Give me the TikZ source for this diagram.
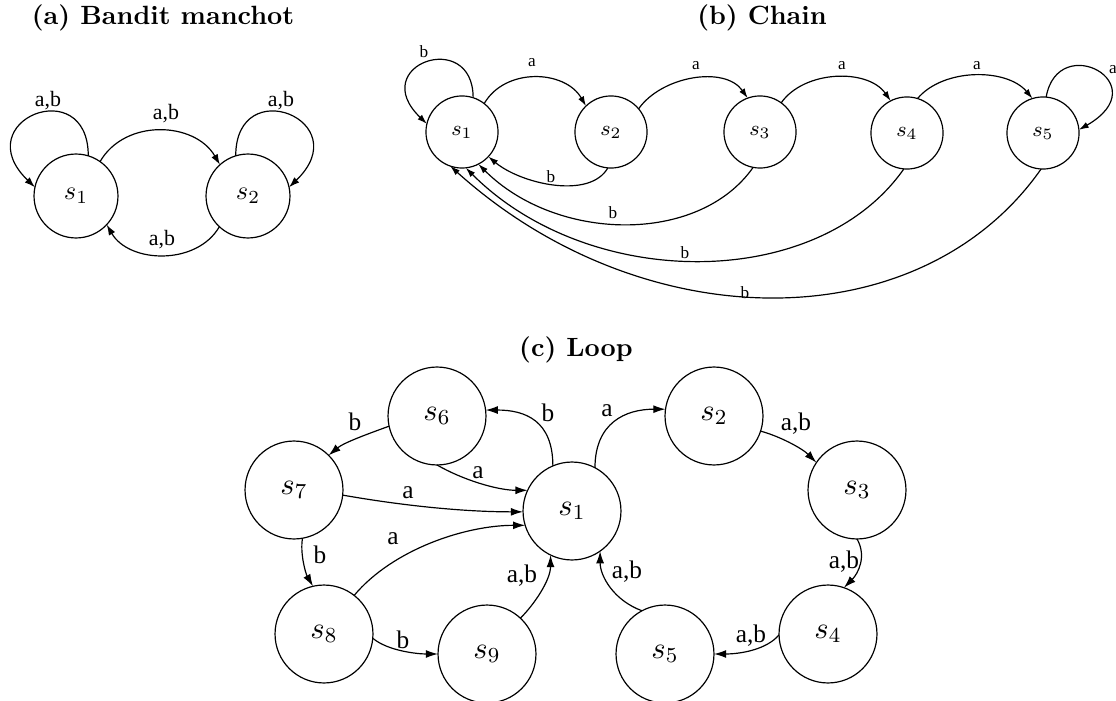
\RequirePackage{fix-cm}
\documentclass[tikz,border=0pt]{standalone}
\usepackage{fontspec}
\newfontfamily\lblfont{Liberation Serif}
\usetikzlibrary{arrows.meta}
\tikzset{
  st/.style={circle,draw,line width=0.45pt,inner sep=0pt,outer sep=0pt},
  sa/.style={st,minimum size=31.8pt,font=\fontsize{10}{12}\selectfont},
  sb/.style={st,minimum size=27.3pt,font=\fontsize{8}{10}\selectfont},
  sc/.style={st,minimum size=37.1pt,font=\fontsize{11.6}{13}\selectfont},
  ea/.style={line width=0.45pt,-{Latex[length=4pt,width=2.7pt]}},
  eb/.style={line width=0.45pt,-{Latex[length=3.7pt,width=2.4pt]}},
  ec/.style={line width=0.45pt,-{Latex[length=4.6pt,width=3pt]}},
  la/.style={font=\lblfont\fontsize{8.3}{9}\selectfont,inner sep=0pt},
  lb/.style={font=\lblfont\fontsize{6.5}{7}\selectfont,inner sep=0pt},
  lc/.style={font=\lblfont\fontsize{9.6}{11}\selectfont,inner sep=0pt},
  ttl/.style={font=\fontsize{10}{12}\selectfont\bfseries,inner sep=0pt}
}
\begin{document}
\begin{tikzpicture}[x=0.3788pt,y=0.3788pt]
\useasboundingbox (0,0) rectangle (1116,700);
% ---------- (a) ----------
\node[ttl] (ta) at (163,682) {(a) Bandit manchot};
\node[sa] (a1) at (76,504) {$s_1$};
\node[sa] (a2) at (248,504) {$s_2$};
\draw[ea] (a1.73) .. controls +(90:84) and +(136:96) .. (a1.168);
\draw[ea] (a1.55) .. controls +(60:50) and +(120:50) .. (a2.132);
\draw[ea] (a2.107) .. controls +(90:84) and +(44:96) .. (a2.12);
\draw[ea] (a2.227) .. controls +(240:45) and +(300:45) .. (a1.317);
\node[la] (la1) at (48,599) {a,b};
\node[la] (la2) at (166,586) {a,b};
\node[la] (la3) at (281,599) {a,b};
\node[la] (la4) at (162,460) {a,b};
% ---------- (b) ----------
\node[ttl] (tb) at (762,682) {(b) Chain};
\node[sb] (b1) at (462,568) {$s_1$};
\node[sb] (b2) at (611,568) {$s_2$};
\node[sb] (b3) at (760,568) {$s_3$};
\node[sb] (b4) at (907,567) {$s_4$};
\node[sb] (b5) at (1043,567) {$s_5$};
\draw[eb] (b1.72) .. controls +(90:70) and +(136:85) .. (b1.167);
\draw[eb] (b1.52) .. controls +(60:42) and +(120:42) .. (b2.134);
\draw[eb] (b2.40) .. controls +(55:40) and +(125:40) .. (b3.110);
\draw[eb] (b3.54) .. controls +(55:40) and +(125:40) .. (b4.117);
\draw[eb] (b4.73) .. controls +(50:40) and +(130:40) .. (b5.107);
\draw[eb] (b5.85) .. controls +(80:68) and +(30:92) .. (b5.5);
\draw[eb] (b2.265) .. controls +(240:37) and +(-40:42) .. (b1.317);
\draw[eb] (b3.259) .. controls +(235:95) and +(315:110) .. (b1.297);
\draw[eb] (b4.265) .. controls +(235:150) and +(315:175) .. (b1.276);
\draw[eb] (b5.267) .. controls +(235:210) and +(318:260) .. (b1.251);
\node[lb] (lb1) at (424,648) {b};
\node[lb] (lb2) at (532,637) {a};
\node[lb] (lb3) at (696,634) {a};
\node[lb] (lb4) at (842,634) {a};
\node[lb] (lb5) at (977,634) {a};
\node[lb] (lb6) at (1113,630) {a};
\node[lb] (lb7) at (551,523) {b};
\node[lb] (lb8) at (613,487) {b};
\node[lb] (lb9) at (685,447) {b};
\node[lb] (lb10) at (745,407) {b};
% ---------- (c) ----------
\node[ttl] (tc) at (576,350) {(c) Loop};
\node[sc] (c1) at (572,189) {$s_1$};
\node[sc] (c2) at (714,284) {$s_2$};
\node[sc] (c3) at (857,210) {$s_3$};
\node[sc] (c4) at (828,66) {$s_4$};
\node[sc] (c5) at (665,46) {$s_5$};
\node[sc] (c6) at (437,284) {$s_6$};
\node[sc] (c7) at (294,210) {$s_7$};
\node[sc] (c8) at (324,66) {$s_8$};
\node[sc] (c9) at (487,46) {$s_9$};
\draw[ec] (c1.113) .. controls +(90:45) and +(0:40) .. (c6.7);
\draw[ec] (c1.62) .. controls +(90:45) and +(180:40) .. (c2.172);
\draw[ec] (c2.-18) .. controls +(-15:20) and +(135:20) .. (c3.146);
\draw[ec] (c3.270) .. controls +(-60:20) and +(45:20) .. (c4.71);
\draw[ec] (c4.181) .. controls +(230:20) and +(0:25) .. (c5.0);
\draw[ec] (c5.118) .. controls +(160:30) and +(270:25) .. (c1.-55);
\draw[ec] (c9.47) .. controls +(45:20) and +(270:25) .. (c1.244);
\draw[ec] (c8.-5) .. controls +(-40:20) and +(180:20) .. (c9.180);
\draw[ec] (c8.52) .. controls +(50:60) and +(180:60) .. (c1.197);
\draw[ec] (c7.280) .. controls +(260:15) and +(120:15) .. (c8.103);
\draw[ec] (c7.-6) .. controls +(-10:60) and +(180:60) .. (c1.181);
\draw[ec] (c6.270) .. controls +(-30:30) and +(180:30) .. (c1.155);
\draw[ec] (c6.192) .. controls +(200:20) and +(40:20) .. (c7.45);
\node[lc] (lc1) at (548,287) {b};
\node[lc] (lc2) at (607,289) {a};
\node[lc] (lc3) at (796,276) {a,b};
\node[lc] (lc4) at (844,138) {a,b};
\node[lc] (lc5) at (751,64) {a,b};
\node[lc] (lc6) at (627,128) {a,b};
\node[lc] (lc7) at (522,124) {a,b};
\node[lc] (lc8) at (403,60) {b};
\node[lc] (lc9) at (393,161) {a};
\node[lc] (lc10) at (320,145) {b};
\node[lc] (lc11) at (408,207) {a};
\node[lc] (lc12) at (478,227) {a};
\node[lc] (lc13) at (355,278) {b};
\end{tikzpicture}
\end{document}
